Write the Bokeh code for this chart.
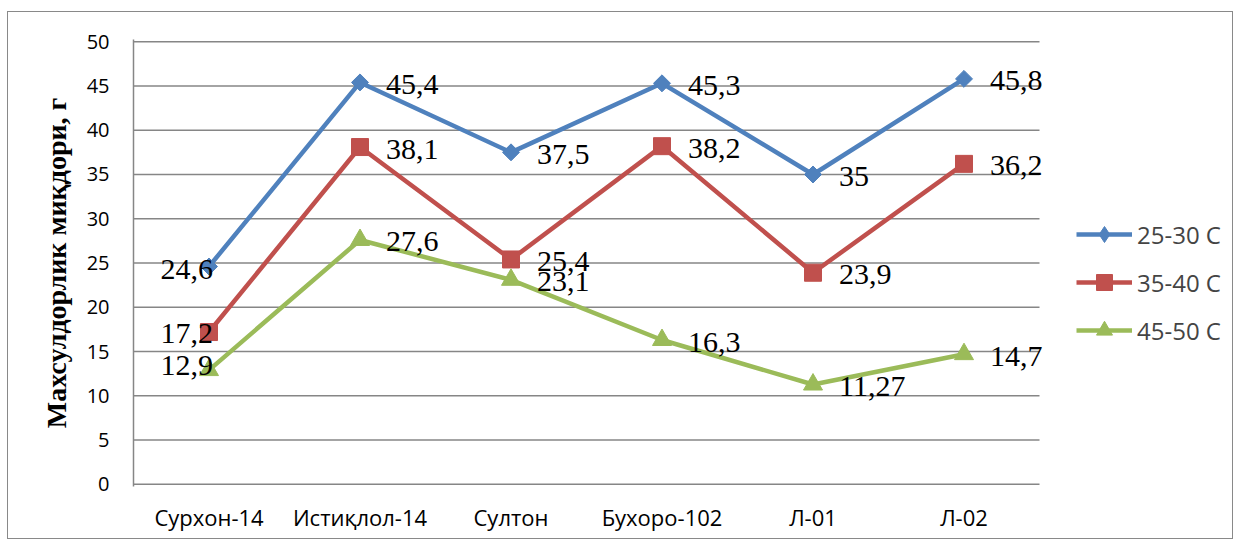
import numpy as np
from bokeh.plotting import figure
from bokeh.models import ColumnDataSource, Range1d, FixedTicker, Legend, LegendItem
from bokeh.core.properties import value
from bokeh.embed import file_html
from bokeh.resources import INLINE

categories = ["Сурхон-14", "Истиқлол-14", "Султон", "Бухоро-102", "Л-01", "Л-02"]
series_names = ["25-30 С", "35-40 С", "45-50 С"]
s_25_30 = [24.6, 45.4, 37.5, 45.3, 35, 45.8]
s_35_40 = [17.2, 38.1, 25.4, 38.2, 23.9, 36.2]
s_45_50 = [12.9, 27.6, 23.1, 16.3, 11.27, 14.7]
y_ticks = [0, 5, 10, 15, 20, 25, 30, 35, 40, 45, 50]
y_title = "Махсулдорлик миқдори, г"

colors = ["#4F81BD", "#C0504D", "#9BBB59"]
markers = ["square", "square", "triangle"]
legend_markers = ["diamond", "square", "triangle"]
angles = [np.pi / 4, 0, 0]
msizes = [12, 17, 19]
# vertical nudge (px) of the first-category labels (placed on the left)
first_label_dy = [3, 1, -5]

n = len(categories)
xpos = [i + 0.5 for i in range(n)]          # category centres on the numeric scale
W, H = 1226, 528
left, right, top, bottom = 125, 5, 27, 54
frame_w = W - left - right
px_per_cat = 151.0
x_end = frame_w / px_per_cat                 # extra room on the right for legend/labels

p = figure(
    x_range=Range1d(0, x_end),
    y_range=Range1d(-0.25, 50.25),
    width=W, height=H,
    output_backend="svg", toolbar_location=None,
    min_border_left=left, min_border_right=right,
    min_border_top=top, min_border_bottom=bottom,
)
p.styles = {"border": "1px solid #898989", "margin-top": "11px", "margin-left": "7px"}
p.outline_line_color = None
p.background_fill_color = "white"
p.border_fill_color = "white"

p.xgrid.grid_line_color = None
p.ygrid.grid_line_color = None

# horizontal gridlines limited to the category area (0 line doubles as the x axis line)
p.segment(x0=[0] * len(y_ticks), x1=[n] * len(y_ticks), y0=y_ticks, y1=y_ticks,
          line_color="#868686", line_width=1.5)

p.xaxis.ticker = FixedTicker(ticks=xpos)
p.xaxis.major_label_overrides = {x: c for x, c in zip(xpos, categories)}
p.yaxis.ticker = FixedTicker(ticks=y_ticks)

for ax in (p.xaxis[0], p.yaxis[0]):
    ax.major_tick_line_color = None
    ax.minor_tick_line_color = None
    ax.major_tick_out = 0
    ax.major_tick_in = 0
    ax.minor_tick_out = 0
    ax.minor_tick_in = 0
    ax.major_label_text_font = "Open Sans"
    ax.major_label_text_color = "black"

p.xaxis.axis_line_color = None
p.yaxis.axis_line_color = "#868686"
p.yaxis.axis_line_width = 1.5
p.yaxis.major_label_text_font_size = "20px"
p.xaxis.major_label_text_font_size = "22px"
p.yaxis.major_label_standoff = 24
p.xaxis.major_label_standoff = 15
p.yaxis.axis_label = y_title
p.yaxis.axis_label_text_font = "Liberation Serif"
p.yaxis.axis_label_text_font_style = "bold"
p.yaxis.axis_label_text_font_size = "28px"
p.yaxis.axis_label_text_color = "black"
p.yaxis.axis_label_standoff = 12

items = []
for i, vals in enumerate([s_25_30, s_35_40, s_45_50]):
    labels = [f"{v:g}".replace(".", ",") for v in vals]
    align = ["right"] + ["left"] * (n - 1)
    xo = [4] + [26] * (n - 1)
    yo = [first_label_dy[i]] + [2] * (n - 1)
    src = ColumnDataSource(dict(x=xpos, y=vals, t=labels, al=align, xo=xo, yo=yo))
    ln = p.line("x", "y", source=src, line_color=colors[i], line_width=4.5)
    # small legend-shape marker, hidden underneath the plotted marker
    lg = p.scatter("x", "y", source=src, marker=legend_markers[i], size=6,
                   fill_color=colors[i], line_color=colors[i])
    p.scatter("x", "y", source=src, marker=markers[i], size=msizes[i], angle=angles[i],
              fill_color=colors[i], line_color=colors[i])
    p.text("x", "y", text="t", source=src, text_align="al", x_offset="xo", y_offset="yo",
           text_baseline="middle", text_font=value("Liberation Serif"), text_font_size="30px",
           text_color="black")
    items.append(LegendItem(label=series_names[i], renderers=[ln, lg]))

legend = Legend(items=items, location=(943, 136), orientation="vertical",
                glyph_width=56, glyph_height=40, label_height=40, spacing=8,
                padding=0, margin=0, label_standoff=5,
                label_text_font="Open Sans", label_text_font_size="24px",
                border_line_color=None, background_fill_alpha=0)
p.add_layout(legend)

open("out.html", "w").write(file_html(p, INLINE))
